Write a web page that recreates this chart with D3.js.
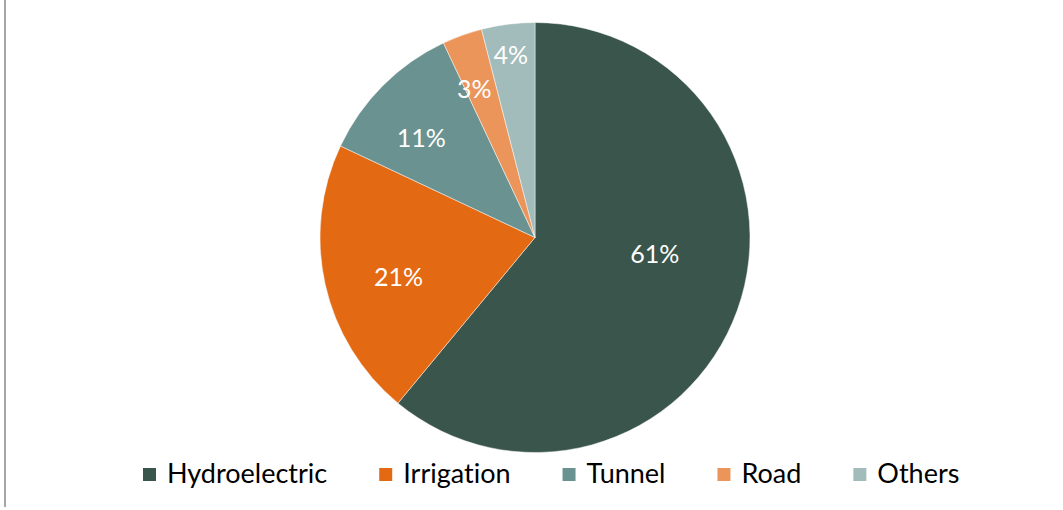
<!DOCTYPE html>
<html>
<head>
<meta charset="utf-8">
<script src="https://cdn.jsdelivr.net/npm/d3@7"></script>
<style>
  html, body { margin: 0; padding: 0; background: #fff; }
  svg { display: block; }
  text { font-variant-ligatures: none; }
</style>
</head>
<body>
<svg id="chart" width="1063" height="510"></svg>
<script>
// Share of projects by type (percent)
const categories = ["Hydroelectric", "Irrigation", "Tunnel", "Road", "Others"];
const shares = [61, 21, 11, 3, 4];
const colors = ["#3a564c", "#e36a13", "#6a9290", "#eb955a", "#a2bbbb"];

const width = 1063, height = 510;
const cx = 535, cy = 237.5, radius = 215;
const font = "Lato, 'Open Sans', sans-serif";

const svg = d3.select("#chart");

// frame line on the left edge
svg.append("line")
  .attr("x1", 5).attr("x2", 5)
  .attr("y1", 0).attr("y2", 507)
  .attr("stroke", "#a6a6a6").attr("stroke-width", 2);

const data = categories.map((c, i) => ({ name: c, value: shares[i], color: colors[i] }));

const pie = d3.pie().value(d => d.value).sort(null);
const arcs = pie(data);
const arc = d3.arc().innerRadius(0).outerRadius(radius);

const g = svg.append("g").attr("transform", `translate(${cx},${cy})`);

g.selectAll("path.slice")
  .data(arcs)
  .join("path")
  .attr("class", "slice")
  .attr("d", arc)
  .attr("fill", d => d.data.color)
  .attr("stroke", "#ffffff")
  .attr("stroke-opacity", 0.6)
  .attr("stroke-width", 0.8);

// label placement: radial distance and small angular nudge (degrees) per slice
const labelTweak = {
  Hydroelectric: { r: 121, shift: -12 },
  Irrigation:    { r: 142, shift: -3.6 },
  Tunnel:        { r: 151, shift: -3.9 },
  Road:          { r: 160, shift: -2.5 },
  Others:        { r: 184, shift: -0.4 }
};

g.selectAll("text.label")
  .data(arcs)
  .join("text")
  .attr("class", "label")
  .attr("transform", d => {
    const t = labelTweak[d.data.name];
    const a = (d.startAngle + d.endAngle) / 2 + t.shift * Math.PI / 180;
    return `translate(${t.r * Math.sin(a)},${-t.r * Math.cos(a)})`;
  })
  .attr("text-anchor", "middle")
  .attr("dy", "0.36em")
  .attr("font-family", font)
  .attr("font-size", 25)
  .attr("fill", "#ffffff")
  .text(d => d.data.value + "%");

// legend, laid out from measured text widths
const legend = svg.append("g");
const sw = 13, gapSwatch = 11, gapItem = 52;
let x = 143;
const baseY = 483;
data.forEach(d => {
  legend.append("rect")
    .attr("x", x).attr("y", baseY - 15)
    .attr("width", sw).attr("height", sw)
    .attr("fill", d.color);
  const t = legend.append("text")
    .attr("x", x + sw + gapSwatch)
    .attr("y", baseY)
    .attr("font-family", font)
    .attr("font-size", 27)
    .attr("fill", "#000")
    .text(d.name);
  x += sw + gapSwatch + t.node().getComputedTextLength() + gapItem;
});
</script>
</body>
</html>
